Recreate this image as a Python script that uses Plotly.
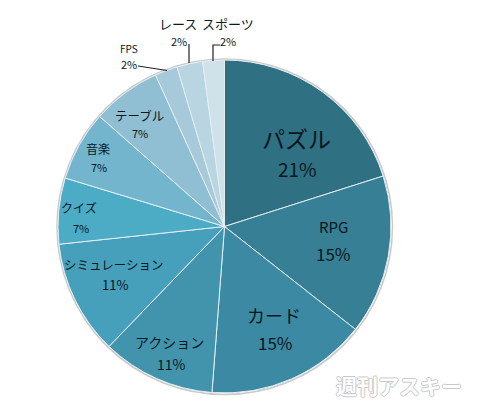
"""Genre share pie chart."""

import plotly.graph_objects as go

W, H = 480, 418
JP_FONT = "Noto Sans CJK JP"

genres = ["パズル", "RPG", "カード", "アクション", "シミュレーション", "クイズ", "音楽", "テーブル", "FPS", "レース", "スポーツ"]
shares = [20.1, 15.5, 15.6, 11.0, 11.1, 6.4, 6.8, 6.7, 2.2, 2.5, 2.1]
pct_labels = ["21%", "15%", "15%", "11%", "11%", "7%", "7%", "7%", "2%", "2%", "2%"]
colors = ["#2f7082", "#377f95", "#3c89a3", "#4294ad", "#47a0bb", "#4cabc5",
          "#72b5cd", "#90bed2", "#a6cad9", "#b9d5e1", "#cfe2ea"]

# label placement in pixels: name x, name y, pct x, pct y, name size, pct size
label_pos = [
    (296, 138, 297, 169, 23, 19),
    (333, 226, 333, 254, 15, 17),
    (274, 315, 275, 342, 18, 17),
    (169, 342, 171, 364, 14, 14),
    (114, 264, 115, 284, 12.5, 13),
    (79, 207, 81, 228, 12, 11),
    (98, 149, 99, 167, 12, 11),
    (139, 115, 140, 133, 12.5, 11),
    (129, 48, 129, 64, 10, 11),
    (178, 24, 179, 41, 13, 11),
    (228, 23, 228, 41, 13, 11),
]


def px(x):
    return x / W


def py(y):
    return 1 - y / H


fig = go.Figure(
    go.Pie(
        labels=genres,
        values=shares,
        sort=False,
        direction="clockwise",
        rotation=0,
        textinfo="none",
        hoverinfo="label+text",
        text=pct_labels,
        marker=dict(colors=colors, line=dict(color="#e4eef2", width=1)),
        domain=dict(x=[px(58), px(391)], y=[py(393), py(60)]),
        showlegend=False,
    )
)

for name, pct, (nx, ny, tx, ty, ns, ts) in zip(genres, pct_labels, label_pos):
    fig.add_annotation(x=px(nx), y=py(ny), text=name, showarrow=False,
                       xanchor="center", yanchor="middle",
                       font=dict(family=JP_FONT, size=ns, color="#0a1820"))
    fig.add_annotation(x=px(tx), y=py(ty), text=pct, showarrow=False,
                       xanchor="center", yanchor="middle",
                       font=dict(family=JP_FONT, size=ts, color="#0a1820"))

# watermark, white text with a grey outline
fig.add_annotation(
    x=px(399), y=py(385), text="<b>週刊アスキー</b>", showarrow=False,
    xanchor="center", yanchor="middle",
    font=dict(family=JP_FONT, size=21, color="#ffffff",
              shadow="1px 0 #c8c8c8, -1px 0 #c8c8c8, 0 1px #c8c8c8, 0 -1px #c8c8c8"),
)

# leader lines and the soft rim behind the pie
line = dict(color="#222222", width=1.2)
shapes = [
    dict(type="circle", xref="paper", yref="paper", layer="below",
         x0=px(57), x1=px(392.5), y0=py(394.5), y1=py(59),
         line=dict(color="#c9c9c9", width=1.5), fillcolor="#ffffff"),
    dict(type="path", xref="paper", yref="paper",
         path=f"M {px(138)} {py(66)} L {px(167)} {py(70.5)}", line=line),
    dict(type="path", xref="paper", yref="paper",
         path=f"M {px(189)} {py(44)} L {px(189)} {py(63)}", line=line),
    dict(type="path", xref="paper", yref="paper",
         path=f"M {px(220)} {py(45)} L {px(213)} {py(45)} L {px(213)} {py(61)}", line=line),
]

fig.update_layout(
    width=W,
    height=H,
    margin=dict(l=0, r=0, t=0, b=0),
    paper_bgcolor="#ffffff",
    plot_bgcolor="#ffffff",
    shapes=shapes,
)

# the page's default body margin would shift the figure by 8px
fig.write_html("out.html", config={"displayModeBar": False},
               post_script="document.body.style.margin = '0';")
